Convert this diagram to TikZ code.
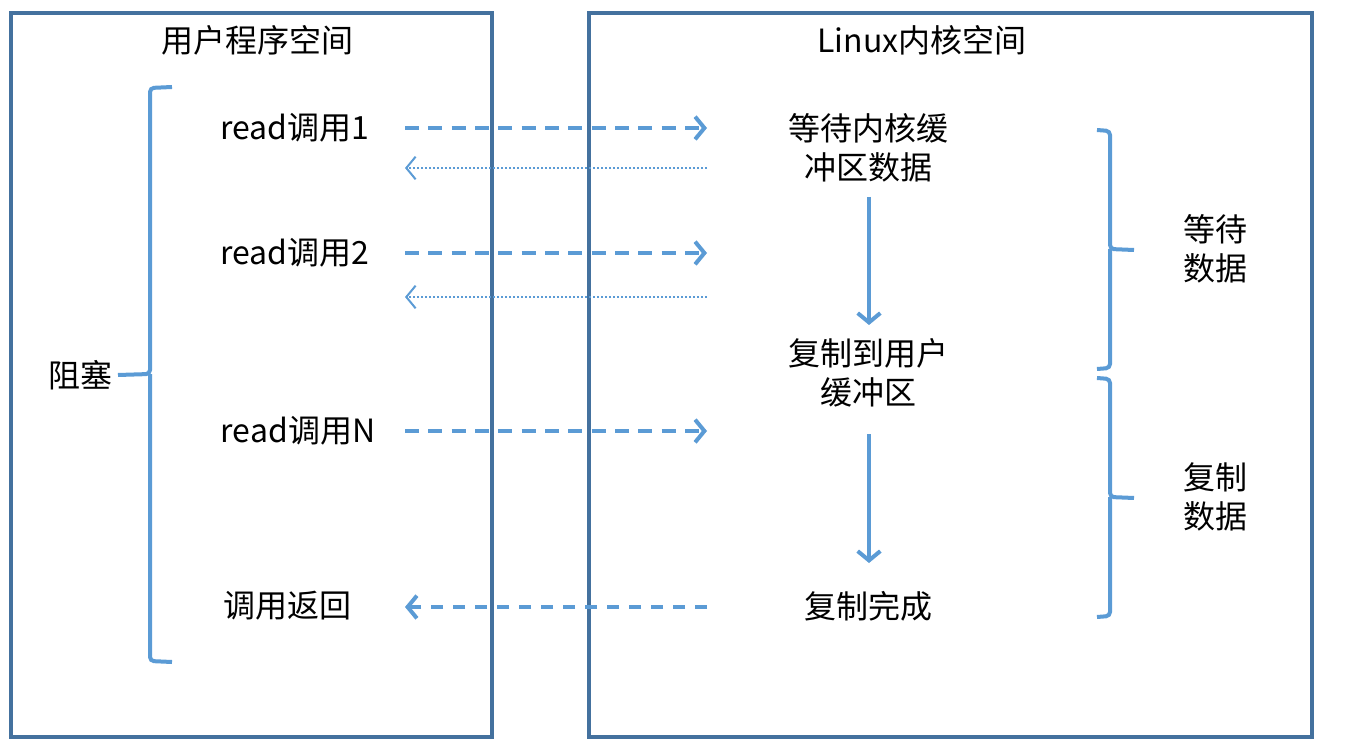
\documentclass[tikz,border=0pt]{standalone}
\usepackage{fontspec}
\setmainfont{Noto Sans CJK SC}
\usetikzlibrary{arrows.meta}
\definecolor{boxc}{HTML}{44719E}
\definecolor{arrc}{HTML}{5B9BD5}
\tikzset{
  box/.style={draw=boxc, line width=2.4pt},
  lbl/.style={font=\fontsize{24}{29}\selectfont, inner sep=0pt, align=center},
  call/.style={draw=arrc, line width=3pt, dash pattern=on 10.5pt off 7pt, -{Straight Barb[length=7pt,width=17pt,line width=3pt]}},
  back/.style={draw=arrc, line width=1.5pt, dash pattern=on 1.5pt off 1.5pt, -{Straight Barb[length=7pt,width=17pt,line width=1.5pt]}},
  ret/.style={draw=arrc, line width=3pt, dash pattern=on 9pt off 7.5pt, -{Straight Barb[length=7pt,width=17pt,line width=3pt]}},
  flow/.style={draw=arrc, line width=3pt, -{Straight Barb[length=7pt,width=17pt,line width=3pt]}},
  brace/.style={draw=arrc, line width=3pt, rounded corners=3pt},
}
\begin{document}
\begin{tikzpicture}[x=0.75pt,y=-0.75pt]
\useasboundingbox (0,0) rectangle (1346,752);
% boxes
\draw[box] (11,13) rectangle (492,737);
\draw[box] (589,13) rectangle (1312,737);
\node[lbl] (t1) at (257,40) {用户程序空间};
\node[lbl] (t2) at (922,40) {Linux内核空间};
% left brace
\draw[brace] (172,87) -- (150,88) -- (150,374) -- (118,375);
\draw[brace] (150,374) -- (150,661) -- (172,662);
\node[lbl] (zs) at (80,375) {阻塞};
% left labels
\node[lbl] (r1) at (295,128) {read调用1};
\node[lbl] (r2) at (295,253) {read调用2};
\node[lbl] (rn) at (298,431) {read调用N};
\node[lbl] (rr) at (287,606) {调用返回};
% right labels
\node[lbl] (k1) at (868,148) {等待内核缓\\冲区数据};
\node[lbl] (k2) at (868,373) {复制到用户\\缓冲区};
\node[lbl] (k3) at (868,606) {复制完成};
% arrow ends
\coordinate (a1s) at (405,128); \coordinate (a1e) at (707,128);
\coordinate (b1s) at (707,168); \coordinate (b1e) at (405,168);
\coordinate (a2s) at (405,253); \coordinate (a2e) at (707,253);
\coordinate (b2s) at (707,297); \coordinate (b2e) at (405,297);
\coordinate (ans) at (405,431); \coordinate (ane) at (707,431);
\coordinate (rs) at (707,607); \coordinate (re) at (405,607);
\draw[call] (a1s) -- (a1e);
\draw[back] (b1s) -- (b1e);
\draw[call] (a2s) -- (a2e);
\draw[back] (b2s) -- (b2e);
\draw[call] (ans) -- (ane);
\draw[ret] (rs) -- (re);
% vertical arrows
\coordinate (v1s) at (869,197); \coordinate (v1e) at (869,325);
\coordinate (v2s) at (869,434); \coordinate (v2e) at (869,563);
\draw[flow] (v1s) -- (v1e);
\draw[flow] (v2s) -- (v2e);
% right braces
\draw[brace] (1097,130) -- (1110,131) -- (1110,249) -- (1134,250);
\draw[brace] (1110,249) -- (1110,368) -- (1097,369);
\draw[brace] (1097,378) -- (1110,379) -- (1110,497) -- (1134,498);
\draw[brace] (1110,497) -- (1110,616) -- (1097,617);
\node[lbl] (w1) at (1215,249) {等待\\数据};
\node[lbl] (w2) at (1215,497) {复制\\数据};
\end{tikzpicture}
\end{document}
